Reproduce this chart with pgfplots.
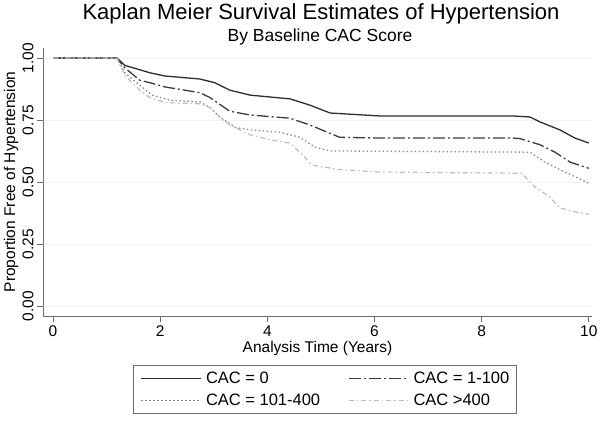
\documentclass[border=0pt]{standalone}
\usepackage{pgfplots}
\pgfplotsset{compat=1.18}
\usepackage{fontspec}
\setmainfont{Liberation Sans}
\definecolor{cz}{HTML}{2E2E2E}
\definecolor{ca}{HTML}{3C3C3C}
\definecolor{cb}{HTML}{8C8C8C}
\definecolor{cc}{HTML}{BDBDBD}
\definecolor{axc}{HTML}{6E6E6E}
\begin{document}
\begin{tikzpicture}
\useasboundingbox (0,0) rectangle (600pt,422pt);
\begin{axis}[
  at={(43pt,106pt)}, anchor=south west, scale only axis,
  width=549pt, height=268pt,
  xmin=-0.187, xmax=10.06, ymin=-0.0403, ymax=1.040,
  axis x line*=bottom, axis y line*=left,
  axis line style={draw=axc, line width=0.8pt},
  xtick={0,2,4,6,8,10}, ytick={0,0.25,0.5,0.75,1},
  tick align=outside, major tick length=6pt,
  tick style={draw=axc, line width=0.8pt},
  ymajorgrids, grid style={draw=gray!10, line width=0.6pt},
  /pgf/number format/assume math mode=true,
  tick label style={font=\fontsize{15.5}{18}\selectfont},
  yticklabel style={rotate=90, anchor=south, /pgf/number format/fixed, /pgf/number format/fixed zerofill, /pgf/number format/precision=2},
  xlabel={Analysis Time (Years)},
  ylabel={Proportion Free of Hypertension},
  label style={font=\fontsize{15.5}{18}\selectfont},
  xlabel style={at={(axis description cs:0.5,-0.138)}, anchor=base},
  ylabel style={at={(axis description cs:-0.051,0.5)}, anchor=base},
  legend columns=2,
  legend cell align=left,
  legend style={at={(axis description cs:0.5137,-0.183)}, anchor=north,
    draw=axc, line width=0.8pt, font=\fontsize{16.5}{19.5}\selectfont,
    inner xsep=7pt, inner ysep=4.5pt, row sep=5pt,
    nodes={inner xsep=0pt},
    /tikz/every even column/.append style={column sep=28pt}},
  legend image code/.code={\draw[#1] (0pt,0pt) -- (60pt,0pt); \path (64pt,0pt);},
]
\addplot[cz, line width=1.3pt] coordinates {
(0,1) (1.19,1) (1.34,0.97) (1.81,0.94) (2.09,0.927) (2.74,0.915) (3.02,0.90)
(3.30,0.87) (3.68,0.85) (4.42,0.835) (4.79,0.81) (5.17,0.778) (6.10,0.766)
(8.58,0.766) (8.90,0.762) (9.09,0.742) (9.46,0.71) (9.74,0.677) (10.0,0.657)};
\addlegendentry{CAC = 0}
\addplot[ca, line width=1.3pt, dash pattern=on 12pt off 3pt on 2pt off 3pt] coordinates {
(0,1) (1.19,1) (1.34,0.96) (1.62,0.91) (1.81,0.90) (2.09,0.883) (2.74,0.86)
(2.93,0.84) (3.30,0.785) (3.68,0.77) (4.42,0.757) (4.79,0.73) (5.35,0.68)
(6.10,0.677) (8.58,0.677) (8.71,0.675) (9.09,0.65) (9.37,0.62) (9.65,0.58) (10.0,0.555)};
\addlegendentry{CAC = 1-100\hspace{14pt}}
\addplot[cb, line width=1.3pt, dash pattern=on 1.5pt off 2.5pt] coordinates {
(0,1) (1.19,1) (1.34,0.94) (1.62,0.89) (1.85,0.85) (2.18,0.83) (2.74,0.823)
(2.93,0.80) (3.12,0.76) (3.40,0.72) (3.68,0.71) (4.24,0.70) (4.61,0.68)
(4.89,0.64) (5.17,0.625) (8.90,0.62) (9.18,0.58) (9.46,0.55) (10.0,0.495)};
\addlegendentry{CAC = 101-400}
\addplot[cc, line width=1.2pt, dash pattern=on 5pt off 3pt on 1.5pt off 3pt] coordinates {
(0,1) (1.19,1) (1.34,0.93) (1.62,0.87) (1.81,0.84) (2.09,0.82) (2.74,0.815)
(2.93,0.80) (3.12,0.76) (3.30,0.73) (3.68,0.69) (4.05,0.67) (4.42,0.657)
(4.70,0.60) (4.83,0.568) (5.35,0.55) (6.10,0.54) (8.75,0.535) (8.99,0.48)
(9.27,0.44) (9.46,0.395) (9.83,0.375) (10.0,0.37)};
\addlegendentry{CAC >400}
\end{axis}
\node[font=\fontsize{22}{25}\selectfont, anchor=base] at (321pt,402pt) {Kaplan Meier Survival Estimates of Hypertension};
\node[font=\fontsize{17.5}{20}\selectfont, anchor=base] at (320pt,380pt) {By Baseline CAC Score};
\end{tikzpicture}
\end{document}
